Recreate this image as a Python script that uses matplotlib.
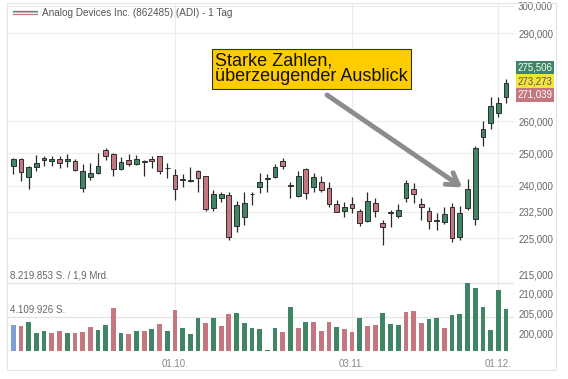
import numpy as np
import matplotlib.pyplot as plt
from matplotlib.patches import Rectangle
import matplotlib.transforms as mtransforms

plt.rcParams['font.family'] = ['Liberation Sans', 'DejaVu Sans']

# daily candles, ADI (862485)
opens = [246.1, 248.2, 242.8, 245.8, 247.8, 247.6, 248.1, 247.6, 247.6, 239.3,
         242.8, 244.0, 250.9, 249.6, 245.2, 247.8, 246.7, 247.5, 248.2, 249.0,
         245.5, 243.2, 241.7, 241.5, 244.6, 243.0, 233.6, 236.6, 237.3, 228.3,
         231.1, 237.5, 239.8, 242.2, 242.6, 247.5, 240.2, 237.1, 245.1, 239.6,
         241.1, 239.5, 234.6, 232.7, 234.6, 232.7, 229.8, 234.9, 229.2, 232.0,
         231.3, 236.6, 239.0, 234.6, 232.7, 229.8, 229.4, 233.9, 225.4, 233.5,
         230.4, 255.1, 259.4, 262.8, 268.1]
highs = [248.4, 248.6, 246.1, 249.4, 249.1, 249.0, 249.0, 249.6, 248.1, 246.5,
         246.8, 249.9, 251.7, 249.9, 248.7, 249.7, 249.4, 247.8, 249.0, 249.1,
         246.8, 245.0, 243.5, 245.6, 244.8, 243.1, 238.7, 238.3, 238.3, 235.5,
         238.1, 238.3, 243.8, 243.6, 246.6, 248.4, 241.3, 244.5, 245.3, 243.8,
         243.1, 241.3, 235.9, 235.4, 236.8, 233.3, 238.1, 236.4, 230.1, 233.0,
         234.7, 241.8, 240.8, 236.6, 233.9, 232.0, 233.9, 234.9, 234.1, 242.0,
         252.2, 260.1, 267.9, 267.9, 273.9]
lows = [243.5, 241.5, 239.1, 244.6, 246.1, 246.1, 245.3, 245.6, 244.5, 238.3,
        241.7, 243.6, 247.8, 243.1, 244.8, 246.0, 246.3, 243.1, 245.3, 243.5,
        242.5, 235.8, 239.8, 241.2, 238.3, 232.7, 232.8, 235.4, 224.4, 226.6,
        228.7, 234.4, 237.8, 238.1, 242.3, 245.0, 236.4, 236.8, 236.1, 238.1,
        238.3, 233.9, 232.3, 231.1, 232.2, 228.4, 229.5, 231.1, 223.1, 228.2,
        230.6, 235.4, 235.1, 230.1, 227.5, 227.3, 228.9, 224.0, 224.5, 233.0,
        228.7, 252.2, 257.5, 261.3, 265.9]
closes = [248.1, 244.3, 245.7, 246.8, 248.6, 248.0, 247.0, 248.0, 244.9, 244.6,
          243.8, 246.0, 249.0, 245.0, 247.1, 246.5, 248.2, 247.3, 247.4, 244.5,
          245.3, 239.0, 241.9, 241.7, 242.3, 233.4, 237.6, 237.7, 225.3, 234.3,
          235.1, 237.7, 241.3, 242.5, 245.6, 246.1, 240.0, 243.0, 237.8, 242.6,
          238.9, 234.7, 232.5, 233.9, 233.5, 229.2, 235.6, 232.7, 228.2, 232.3,
          233.0, 241.0, 237.6, 233.9, 229.9, 230.1, 231.8, 225.0, 232.0, 239.0,
          251.5, 257.4, 265.0, 266.1, 272.5]

# volume in millions of shares, colour as shown (b = first bar)
volume = [3.1, 3.0, 3.55, 2.14, 2.38, 2.14, 2.42, 2.22, 2.14, 2.3,
          2.87, 2.58, 3.1, 5.2, 2.14, 2.06, 2.42, 2.42, 2.62, 3.3,
          2.46, 4.92, 2.74, 2.1, 4.0, 3.39, 4.0, 3.07, 4.44, 4.6,
          3.43, 2.78, 2.7, 0.12, 2.74, 2.34, 5.32, 2.78, 3.5, 3.5,
          2.42, 3.47, 2.94, 2.66, 2.26, 3.95, 2.98, 3.1, 4.6, 3.27,
          3.15, 4.68, 4.88, 3.35, 3.91, 3.95, 2.78, 4.36, 4.51, 8.27,
          7.58, 5.28, 2.54, 7.42, 5.08]
vol_dir = list("brgggrrgrrrggrgrgrgrgrgggrgrrggggggrgrgrrrgrrgrrgggrrrggrgggggggg")

date_pos = [21, 44, 63]
date_labels = ['01.10.', '03.11.', '01.12.']

price_ticks = [300, 290, 260, 250, 240, 232.5, 225, 215, 210, 205, 200]
grid_prices = [300, 290, 260, 250, 240, 232.5, 225]
vol_lines = [8.219853, 4.109926]
vol_line_labels = ['8.219.853 S. / 1,9 Mrd.', '4.109.926 S.']
last_price = 273.273
last_labels = ['275,506', '273,273', '271,039']

GREEN = '#3f8566'
RED = '#c4777f'
BLUE = '#7d9ed6'
GRID = '#ececec'
W, H = 568, 379

fig = plt.figure(figsize=(5.68, 3.79), dpi=100)
rect = [7 / W, 1 - 351 / H, (514 - 7) / W, (351 - 3) / H]
ax = fig.add_axes(rect)
axv = fig.add_axes(rect, sharex=ax)
axv.patch.set_alpha(0)

x = np.arange(len(opens))

# price panel (log scale, like the original)
ax.set_yscale('log')
ax.set_ylim(195.67, 301.0)
ax.set_xlim(-0.82, 65.04)
for p in grid_prices:
    ax.axhline(p, color=GRID, lw=0.8, zorder=0)
for d in date_pos:
    ax.axvline(d, color=GRID, lw=0.8, zorder=0)

o = np.array(opens)
c = np.array(closes)
up = c >= o
cols = np.where(up, GREEN, RED)
ax.vlines(x, lows, highs, color='#2a2a2a', lw=0.9, zorder=2)
body_lo = np.minimum(o, c)
body_h = np.maximum(np.abs(c - o), 0.25)
ax.bar(x, body_h, bottom=body_lo, width=0.62, color=cols,
       edgecolor='#2e2e2e', linewidth=0.7, zorder=3)

ax.yaxis.tick_right()
ax.set_yticks(price_ticks)
ax.yaxis.set_minor_locator(plt.NullLocator())
ax.set_yticklabels([('%.3f' % p).replace('.', ',') for p in price_ticks])
ax.tick_params(axis='y', length=0, pad=3, labelsize=7, labelcolor='#666666')
ax.set_xticks(date_pos)
ax.set_xticklabels(date_labels)
ax.tick_params(axis='x', length=0, pad=6, labelsize=7, labelcolor='#888888')
for s in ax.spines.values():
    s.set_visible(False)

# volume panel
vcol = {'g': GREEN, 'r': RED, 'b': BLUE}
axv.bar(x, volume, width=0.62, color=[vcol[k] for k in vol_dir], zorder=2)
axv.set_ylim(0, 4.109926 * 348 / 34)
for v, lab in zip(vol_lines, vol_line_labels):
    axv.axhline(v, color='#e2e2e2', lw=0.9, zorder=1)
    axv.annotate(lab, xy=(0, v), xycoords=('axes fraction', 'data'),
                 xytext=(2, 1.5), textcoords='offset points',
                 fontsize=7, color='#666666', va='bottom')
axv.axis('off')

# last price boxes
trans = mtransforms.blended_transform_factory(ax.transAxes, ax.transData)
box_cols = [(GREEN, 'white'), ('#f2e43c', '#555555'), (RED, 'white')]
for k, (lab, (bg, fg)) in enumerate(zip(last_labels, box_cols)):
    ax.annotate(lab, xy=(1, last_price), xycoords=trans,
                xytext=(2.5, (1 - k) * 9.8), textcoords='offset points',
                fontsize=7, color=fg, va='center', ha='left',
                bbox=dict(boxstyle='square,pad=0.2', fc=bg, ec='none'),
                annotation_clip=False)

# title + legend icon
for yy, cc in zip([10.5, 12.3, 14.1], ['#3f8566', '#bbbbbb', '#c4777f']):
    fig.add_artist(plt.Line2D([13 / W, 37 / W], [1 - yy / H, 1 - yy / H],
                              color=cc, lw=0.9))
fig.text(42 / W, 1 - 13 / H, 'Analog Devices Inc. (862485) (ADI) - 1 Tag',
         fontsize=7.2, color='#555555', va='center')

# callout
fig.text(215 / W, 1 - 52 / H, 'Starke Zahlen,\nüberzeugender Ausblick',
         fontsize=13, color='#111111', va='top', ha='left', linespacing=0.95,
         bbox=dict(boxstyle='square,pad=0.18', fc='#ffcc00', ec='#333333', lw=0.8))
ax.annotate('', xy=(58.3, 239.6), xycoords='data',
            xytext=(327 / W, 1 - 95 / H), textcoords='figure fraction',
            arrowprops=dict(arrowstyle='->,head_length=0.8,head_width=0.5',
                            color='#8c8c8c', lw=3.5, shrinkA=0, shrinkB=0))

# outer frame
fig.add_artist(Rectangle((7 / W, 1 - 370 / H), (556 - 7) / W, (370 - 3) / H,
                         transform=fig.transFigure, fill=False,
                         ec='#e4e4e4', lw=0.8))

fig.savefig('out.png', dpi=100)
